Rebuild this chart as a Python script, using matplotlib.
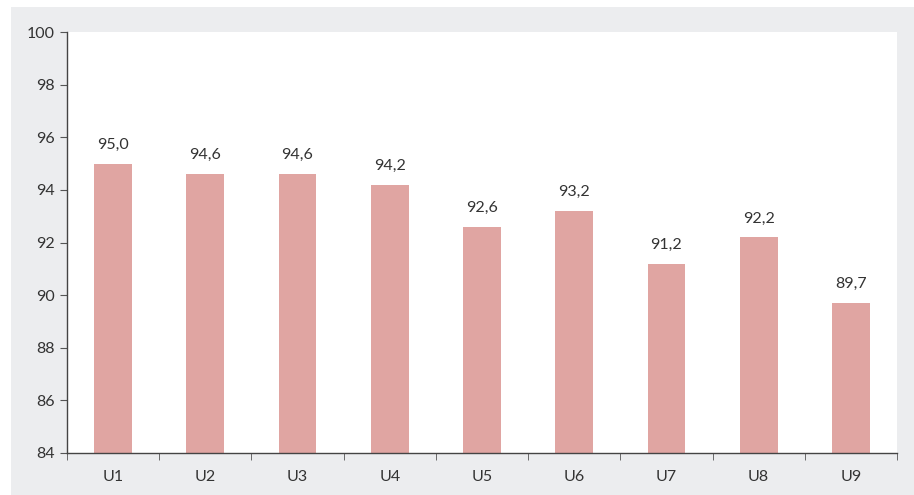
import matplotlib
matplotlib.use("Agg")
import matplotlib.pyplot as plt
from matplotlib.patches import Rectangle

categories = ["U1", "U2", "U3", "U4", "U5", "U6", "U7", "U8", "U9"]
values = [95.0, 94.6, 94.6, 94.2, 92.6, 93.2, 91.2, 92.2, 89.7]
yticks = [84, 86, 88, 90, 92, 94, 96, 98, 100]

plt.rcParams["font.family"] = ["Lato", "DejaVu Sans"]
txt = "#333333"

fig = plt.figure(figsize=(9.14, 4.95), dpi=100)
fig.patches.append(Rectangle((11 / 914, 0), 1, 1 - 7 / 495, transform=fig.transFigure,
                             facecolor="#ecedef", edgecolor="none", zorder=-1))
ax = fig.add_axes([67 / 914, 1 - 453 / 495, 830 / 914, 421 / 495])
ax.set_facecolor("white")

x = range(len(categories))
ax.bar(x, values, width=0.41, color="#e0a5a2")
for i, v in zip(x, values):
    ax.text(i, v + 0.45, f"{v:.1f}".replace(".", ","), ha="center", va="bottom",
            fontsize=11.5, color=txt)

ax.set_ylim(84, 100)
ax.set_xlim(-0.5, len(categories) - 0.5)
ax.set_yticks(yticks)
ax.set_xticks(list(x))
ax.set_xticklabels(categories)
ax.set_xticks([i - 0.5 for i in range(len(categories) + 1)], minor=True)
ax.tick_params(axis="x", which="major", length=0, pad=12, labelsize=11.5, labelcolor=txt)
ax.tick_params(axis="x", which="minor", length=5, direction="out", color="#555555")
ax.tick_params(axis="y", length=5, direction="out", labelsize=11.5, labelcolor=txt,
               color="#555555", pad=4)
for s in ["top", "right"]:
    ax.spines[s].set_visible(False)
for s in ["left", "bottom"]:
    ax.spines[s].set_color("#444444")
    ax.spines[s].set_linewidth(1.0)

fig.savefig("out.png", dpi=100)
